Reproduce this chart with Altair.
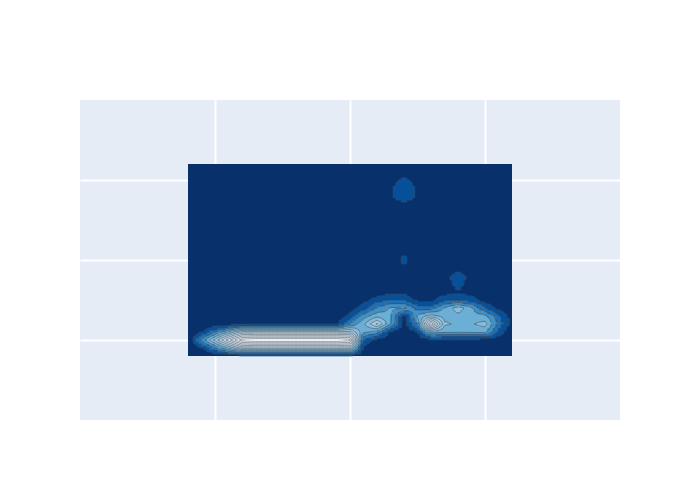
import numpy as np
import pandas as pd
import altair as alt
from collections import defaultdict

# ---------------- data ----------------
# bin centres of the 2-D histogram (x and y)
x_bins = [0.8, 0.9, 1.0, 1.1, 1.2, 1.3, 1.4, 1.5, 1.6, 1.7, 1.8, 1.9, 2.0,
          2.1, 2.2, 2.3, 2.4, 2.5, 2.6, 2.7, 2.8, 2.9, 3.0, 3.1, 3.2]
y_bins = [0.8, 0.9, 1.0, 1.1, 1.2, 1.3, 1.4, 1.5, 1.6, 1.7, 1.8, 1.9, 2.0,
          2.1, 2.2, 2.3, 2.4, 2.5, 2.6, 2.7, 2.8, 2.9, 3.0, 3.1, 3.2]

# counts, one row per y bin (bottom row first), one value per x bin
z_rows = [
    [0, 0, 0, 0.1, 0.2, 0.3, 0.3, 0.3, 0.3, 0.3, 0.3, 0.3, 0.3, 0.1, 0, 0, 0, 0, 0, 0, 0, 0, 0, 0, 0],
    [0, 0.9, 2.9, 5.1, 7.3, 7.3, 7.3, 7.3, 7.3, 7.3, 7.3, 7.3, 7.3, 0.6, 0, 0, 0, 0, 0, 0, 0, 0, 0, 0, 0],
    [0, 3.2, 6.4, 9.6, 12.6, 13, 13, 13, 13, 13, 13, 13, 12.5, 2.1, 0.5, 0.2, 0, 0.2, 0.7, 0.6, 0.6, 0.6, 0.5, 0.2, 0],
    [0, 0.9, 2.9, 5.1, 7.3, 7.3, 7.3, 7.3, 7.3, 7.3, 7.3, 7.3, 7.3, 4.2, 3.6, 0.8, 0, 1.1, 4.5, 4.2, 4.1, 4.2, 4.3, 1.8, 0],
    [0, 0, 0, 0.3, 0.6, 0.8, 0.8, 0.8, 0.8, 0.8, 0.8, 0.8, 3.1, 4.8, 7.2, 4.1, 0.5, 3.1, 11, 5.2, 4.8, 4.9, 5.4, 2.8, 0.4],
    [0, 0, 0, 0, 0, 0, 0, 0, 0, 0, 0, 0, 1.5, 3.5, 4.7, 4.3, 0.6, 4.2, 5.5, 4.6, 4.7, 4.5, 4.3, 2.4, 0.3],
    [0, 0, 0, 0, 0, 0, 0, 0, 0, 0, 0, 0, 0.3, 1.6, 3.1, 4.1, 4.3, 2.6, 2.5, 4.1, 5.6, 4.2, 2.2, 0.6, 0],
    [0, 0, 0, 0, 0, 0, 0, 0, 0, 0, 0, 0, 0, 0.5, 1.6, 2.1, 2.1, 0.6, 0.6, 1.8, 1.8, 1.6, 0.3, 0, 0],
    [0, 0, 0, 0, 0, 0, 0, 0, 0, 0, 0, 0, 0, 0, 0.2, 0.6, 0.5, 0.1, 0, 0.4, 0.9, 0.4, 0.1, 0, 0],
    [0, 0, 0, 0, 0, 0, 0, 0, 0, 0, 0, 0, 0, 0, 0, 0, 0, 0, 0, 0.5, 1.4, 0.5, 0, 0, 0],
    [0, 0, 0, 0, 0, 0, 0, 0, 0, 0, 0, 0, 0, 0, 0, 0, 0, 0, 0, 0.5, 1.6, 0.5, 0, 0, 0],
    [0, 0, 0, 0, 0, 0, 0, 0, 0, 0, 0, 0, 0, 0, 0, 0, 0.5, 0, 0, 0, 0.3, 0, 0, 0, 0],
    [0, 0, 0, 0, 0, 0, 0, 0, 0, 0, 0, 0, 0, 0, 0, 0, 1.5, 0, 0, 0, 0, 0, 0, 0, 0],
    [0, 0, 0, 0, 0, 0, 0, 0, 0, 0, 0, 0, 0, 0, 0, 0, 0.6, 0, 0, 0, 0, 0, 0, 0, 0],
    [0, 0, 0, 0, 0, 0, 0, 0, 0, 0, 0, 0, 0, 0, 0, 0, 0, 0, 0, 0, 0, 0, 0, 0, 0],
    [0, 0, 0, 0, 0, 0, 0, 0, 0, 0, 0, 0, 0, 0, 0, 0, 0, 0, 0, 0, 0, 0, 0, 0, 0],
    [0, 0, 0, 0, 0, 0, 0, 0, 0, 0, 0, 0, 0, 0, 0, 0, 0, 0, 0, 0, 0, 0, 0, 0, 0],
    [0, 0, 0, 0, 0, 0, 0, 0, 0, 0, 0, 0, 0, 0, 0, 0, 0, 0, 0, 0, 0, 0, 0, 0, 0],
    [0, 0, 0, 0, 0, 0, 0, 0, 0, 0, 0, 0, 0, 0, 0, 0, 0.3, 0, 0, 0, 0, 0, 0, 0, 0],
    [0, 0, 0, 0, 0, 0, 0, 0, 0, 0, 0, 0, 0, 0, 0, 0.4, 0.8, 0.4, 0, 0, 0, 0, 0, 0, 0],
    [0, 0, 0, 0, 0, 0, 0, 0, 0, 0, 0, 0, 0, 0, 0, 0.8, 1.8, 0.8, 0, 0, 0, 0, 0, 0, 0],
    [0, 0, 0, 0, 0, 0, 0, 0, 0, 0, 0, 0, 0, 0, 0, 0.8, 1.8, 0.8, 0, 0, 0, 0, 0, 0, 0],
    [0, 0, 0, 0, 0, 0, 0, 0, 0, 0, 0, 0, 0, 0, 0, 0.4, 1.4, 0.4, 0, 0, 0, 0, 0, 0, 0],
    [0, 0, 0, 0, 0, 0, 0, 0, 0, 0, 0, 0, 0, 0, 0, 0, 0.2, 0, 0, 0, 0, 0, 0, 0, 0],
    [0, 0, 0, 0, 0, 0, 0, 0, 0, 0, 0, 0, 0, 0, 0, 0, 0, 0, 0, 0, 0, 0, 0, 0, 0],
]

contour_levels = [1, 2, 3, 4, 5, 6, 7, 8, 9, 10, 11, 12]
level_colors = ["#08306b", "#08519c", "#2171b5", "#4292c6", "#6baed6",
                "#89bedc", "#9ecae1", "#b2d2e8", "#c6dbef", "#d2e3f3",
                "#deebf7", "#ebf3fb", "#f7fbff"]
grid_ticks = [1, 2, 3]
axis_domain = [0, 4]

# ---------------- contour rendering tables ----------------
Z = np.array(z_rows, dtype=float)
nx, ny = len(x_bins), len(y_bins)
FX, FY = 5, 4
xi = np.linspace(0, nx - 1, (nx - 1) * FX + 1)
yi = np.linspace(0, ny - 1, (ny - 1) * FY + 1)
xf = np.interp(xi, np.arange(nx), x_bins)
yf = np.interp(yi, np.arange(ny), y_bins)
tmp = np.array([np.interp(xi, np.arange(nx), Z[j]) for j in range(ny)])
F = np.array([np.interp(yi, np.arange(ny), tmp[:, c]) for c in range(len(xi))]).T  # [row, col]
F = np.round(F, 6)

lv = np.array(contour_levels, dtype=float)

# filled bands: run-length merged fine cells
fill_rows = []
for r in range(len(yf) - 1):
    cellv = (F[r, :-1] + F[r, 1:] + F[r + 1, :-1] + F[r + 1, 1:]) / 4.0
    lev = (cellv[:, None] >= lv[None, :]).sum(axis=1)
    c = 0
    while c < len(lev):
        k = lev[c]
        c2 = c
        while c2 + 1 < len(lev) and lev[c2 + 1] == k:
            c2 += 1
        if k > 0:
            fill_rows.append({"x": round(xf[c], 4), "x2": round(xf[c2 + 1], 4),
                              "y": round(yf[r], 4), "y2": round(yf[r + 1], 4),
                              "level": int(k)})
        c = c2 + 1
fills = pd.DataFrame(fill_rows)


# contour lines: marching squares on the fine grid, chained into polylines
def key(p):
    return (round(p[0], 6), round(p[1], 6))


line_rows = []
line_id = 0
for L in contour_levels:
    segments = []
    for r in range(len(yf) - 1):
        for c in range(len(xf) - 1):
            v00, v10 = F[r, c], F[r, c + 1]
            v01, v11 = F[r + 1, c], F[r + 1, c + 1]
            s = [v00 >= L, v10 >= L, v11 >= L, v01 >= L]
            if all(s) or not any(s):
                continue
            x0, x1, y0, y1 = xf[c], xf[c + 1], yf[r], yf[r + 1]

            def cross(va, vb, pa, pb):
                t = (L - va) / (vb - va)
                return key((pa[0] + t * (pb[0] - pa[0]), pa[1] + t * (pb[1] - pa[1])))

            pts = {}
            if s[0] != s[1]:
                pts["b"] = cross(v00, v10, (x0, y0), (x1, y0))
            if s[1] != s[2]:
                pts["r"] = cross(v10, v11, (x1, y0), (x1, y1))
            if s[2] != s[3]:
                pts["t"] = cross(v01, v11, (x0, y1), (x1, y1))
            if s[3] != s[0]:
                pts["l"] = cross(v00, v01, (x0, y0), (x0, y1))
            if len(pts) == 2:
                a, b = list(pts.values())
                segments.append((a, b))
            elif len(pts) == 4:
                center = (v00 + v10 + v01 + v11) / 4.0 >= L
                adj = {0: ("b", "l"), 1: ("b", "r"), 2: ("r", "t"), 3: ("t", "l")}
                for ci in range(4):
                    if s[ci] != center:
                        e1, e2 = adj[ci]
                        segments.append((pts[e1], pts[e2]))
    nbr = defaultdict(list)
    for idx, (a, b) in enumerate(segments):
        nbr[a].append(idx)
        nbr[b].append(idx)
    used = [False] * len(segments)
    for start in range(len(segments)):
        if used[start]:
            continue
        used[start] = True
        poly = [segments[start][0], segments[start][1]]
        for _ in range(2):
            while True:
                end = poly[-1]
                nxt = None
                for j in nbr[end]:
                    if not used[j]:
                        nxt = j
                        break
                if nxt is None:
                    break
                used[nxt] = True
                p, q = segments[nxt]
                poly.append(q if p == end else p)
            poly.reverse()
        for o, (px, py) in enumerate(poly):
            line_rows.append({"x": round(px, 4), "y": round(py, 4),
                              "line": line_id, "o": o})
        line_id += 1
lines = pd.DataFrame(line_rows)

extent = pd.DataFrame([{"x": x_bins[0], "x2": x_bins[-1],
                        "y": y_bins[0], "y2": y_bins[-1]}])

# ---------------- chart ----------------
xs = alt.Scale(domain=axis_domain, nice=False, zero=False)
ys = alt.Scale(domain=axis_domain, nice=False, zero=False)
ax = alt.Axis(values=grid_ticks, grid=True, labels=False, ticks=False,
              domain=False, title=None, gridColor="white", gridWidth=2,
              gridOpacity=1)

X = alt.X("x:Q", scale=xs, axis=ax)
Y = alt.Y("y:Q", scale=ys, axis=ax)

base_rect = alt.Chart(extent).mark_rect(color=level_colors[0]).encode(
    x=X, x2="x2:Q", y=Y, y2="y2:Q")

band_scale = alt.Scale(domain=contour_levels, range=level_colors[1:])
bands = alt.Chart(fills).mark_rect(strokeWidth=0.6).encode(
    x=X, x2="x2:Q", y=Y, y2="y2:Q",
    fill=alt.Fill("level:O", scale=band_scale, legend=None),
    stroke=alt.Stroke("level:O", scale=band_scale, legend=None))

contour_lines = alt.Chart(lines).mark_line(color="#444444", strokeWidth=0.5,
                                           strokeJoin="round").encode(
    x=X, y=Y, detail="line:N", order="o:Q")

chart = alt.layer(base_rect, bands, contour_lines).properties(
    width=540, height=320,
    autosize=alt.AutoSizeParams(type="none"),
    padding={"left": 80, "top": 100, "right": 80, "bottom": 80},
    background="white",
).configure_view(fill="#E5ECF6", stroke=None)

chart.save("out.html", embed_options={"renderer": "svg", "actions": False})
